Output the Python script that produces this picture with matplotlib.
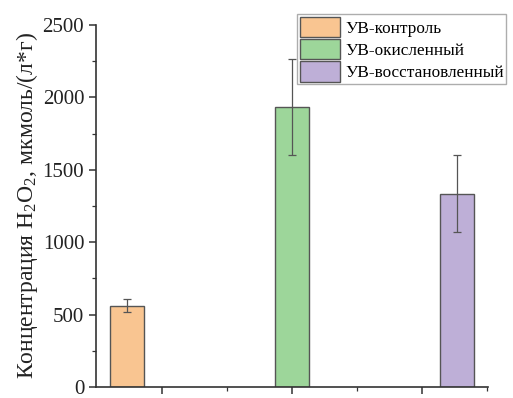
import matplotlib.pyplot as plt
from matplotlib.ticker import FixedLocator

# данные
groups = ["УВ-контроль", "УВ-окисленный", "УВ-восстановленный"]
values = [560, 1935, 1335]
errors = [45, 333, 265]
colors = ["#F9C591", "#9DD69A", "#BEAFD7"]

plt.rcParams['font.family'] = ['Liberation Serif', 'DejaVu Serif']
plt.rcParams['mathtext.fontset'] = 'custom'
plt.rcParams['mathtext.rm'] = 'Liberation Serif'
plt.rcParams['mathtext.it'] = 'Liberation Serif:italic'

fig = plt.figure(figsize=(5.13, 3.98), dpi=100)
ax = fig.add_axes([96/513, 11/398, 392/513, 362/398])

pos = [1, 2, 3]
for p, v, e, c, g in zip(pos, values, errors, colors, groups):
    ax.bar(p, v, width=0.21, color=c, edgecolor="#555555", linewidth=1.0, label=g)
    ax.errorbar(p, v, yerr=e, fmt="none", ecolor="#555555", elinewidth=0.9,
                capsize=3, capthick=0.9)

ax.set_xlim(0.812, 3.188)
ax.set_ylim(0, 2500)
ax.set_yticks([0, 500, 1000, 1500, 2000, 2500])
ax.yaxis.set_minor_locator(FixedLocator([250, 750, 1250, 1750, 2250]))
ax.set_xticks([2 - 0.788, 2, 2 + 0.788])
ax.xaxis.set_minor_locator(FixedLocator([2 - 0.394, 2 + 0.394, 3.182]))
ax.set_xticklabels([])

for s in ("top", "right"):
    ax.spines[s].set_visible(False)
for s in ("left", "bottom"):
    ax.spines[s].set_linewidth(1.2)
    ax.spines[s].set_color("#333333")

ax.tick_params(axis="both", which="major", direction="out", length=5, width=1.1,
               colors="#333333", labelsize=15, labelcolor="#222222")
ax.tick_params(axis="both", which="minor", direction="out", length=3, width=0.9,
               colors="#333333")

ax.set_ylabel(r"Концентрация H$_\mathrm{2}$O$_\mathrm{2}$, мкмоль/(л*г)", fontsize=17,
              color="#222222", labelpad=2)

leg = ax.legend(loc="upper left", bbox_to_anchor=(201/392, 1.03), fontsize=12.4,
                frameon=True, fancybox=False, edgecolor="#999999",
                handlelength=2.35, handleheight=1.45, handletextpad=0.3,
                labelspacing=0.1, borderpad=0.15, borderaxespad=0)
leg.get_frame().set_linewidth(1.0)

fig.savefig("out.png", dpi=100)
